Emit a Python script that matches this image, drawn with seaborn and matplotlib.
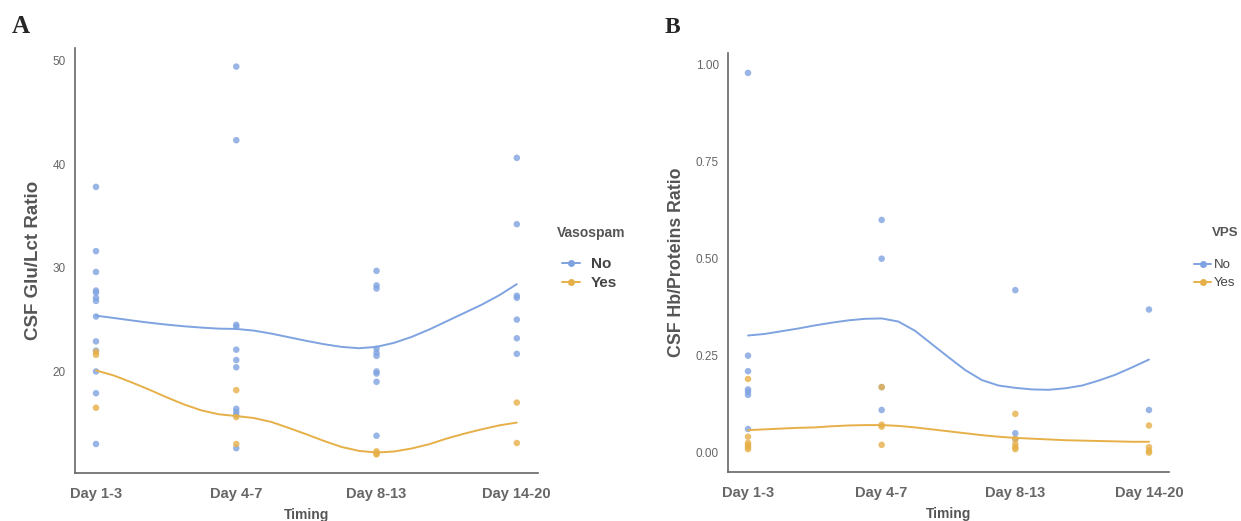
import matplotlib
matplotlib.use("Agg")
import matplotlib.pyplot as plt
from matplotlib.lines import Line2D
import pandas as pd
import seaborn as sns

# categories on the x axis
timing = ["Day 1-3", "Day 4-7", "Day 8-13", "Day 14-20"]
groups = ["No", "Yes"]

# panel A: CSF Glu/Lct ratio, points per timing
a_no = {
    "Day 1-3": [37.8, 31.6, 29.6, 27.8, 27.6, 27.1, 26.8, 25.3, 22.9, 22.0, 20.0, 17.9, 13.0],
    "Day 4-7": [49.4, 42.3, 24.5, 24.3, 22.1, 21.1, 20.4, 16.4, 16.1, 15.8, 12.6],
    "Day 8-13": [29.7, 28.3, 28.0, 22.2, 21.8, 21.5, 20.0, 19.8, 19.0, 13.8],
    "Day 14-20": [40.6, 34.2, 27.3, 27.1, 25.0, 23.2, 21.7],
}
a_yes = {
    "Day 1-3": [21.9, 21.6, 16.5],
    "Day 4-7": [18.2, 15.6, 13.0],
    "Day 8-13": [12.3, 12.1, 12.0],
    "Day 14-20": [17.0, 13.1],
}

# panel B: CSF Hb/Proteins ratio
b_no = {
    "Day 1-3": [0.979, 0.25, 0.21, 0.163, 0.157, 0.149, 0.061],
    "Day 4-7": [0.60, 0.50, 0.169, 0.11],
    "Day 8-13": [0.419, 0.05, 0.035],
    "Day 14-20": [0.369, 0.11],
}
b_yes = {
    "Day 1-3": [0.19, 0.041, 0.025, 0.019, 0.014, 0.009],
    "Day 4-7": [0.169, 0.072, 0.067, 0.02],
    "Day 8-13": [0.10, 0.035, 0.022, 0.014, 0.009],
    "Day 14-20": [0.07, 0.014, 0.005, 0.0],
}

# smoothed curves, every eighth of a step between timings
curve_x = [0, 0.125, 0.25, 0.375, 0.5, 0.625, 0.75, 0.875,
           1.0, 1.125, 1.25, 1.375, 1.5, 1.625, 1.75, 1.875,
           2.0, 2.125, 2.25, 2.375, 2.5, 2.625, 2.75, 2.875, 3.0]
a_curve_no = [25.38, 25.16, 24.93, 24.71, 24.52, 24.36, 24.23, 24.13,
              24.10, 23.94, 23.65, 23.30, 22.95, 22.63, 22.37, 22.24,
              22.37, 22.76, 23.33, 24.04, 24.84, 25.64, 26.44, 27.35, 28.42]
a_curve_yes = [20.10, 19.62, 18.97, 18.27, 17.53, 16.83, 16.25, 15.87,
               15.70, 15.51, 15.13, 14.55, 13.94, 13.30, 12.72, 12.34,
               12.18, 12.28, 12.57, 12.98, 13.53, 14.00, 14.42, 14.80, 15.07]
b_curve_no = [0.302, 0.306, 0.313, 0.320, 0.328, 0.335, 0.341, 0.345,
              0.346, 0.338, 0.314, 0.280, 0.246, 0.213, 0.187, 0.173,
              0.167, 0.163, 0.162, 0.166, 0.173, 0.186, 0.201, 0.220, 0.240]
b_curve_yes = [0.058, 0.060, 0.062, 0.064, 0.065, 0.068, 0.070, 0.071,
               0.071, 0.069, 0.065, 0.060, 0.055, 0.050, 0.045, 0.041,
               0.038, 0.036, 0.034, 0.032, 0.031, 0.030, 0.029, 0.028, 0.028]

palette = {"No": "#7fa3e0", "Yes": "#e6b048"}
grey = "#555555"


def points_frame(no, yes):
    rows = []
    for grp, d in (("No", no), ("Yes", yes)):
        for i, t in enumerate(timing):
            for v in d[t]:
                rows.append({"x": i, "value": v, "group": grp})
    return pd.DataFrame(rows)


def curve_frame(no, yes):
    return pd.DataFrame({
        "x": curve_x + curve_x,
        "value": no + yes,
        "group": ["No"] * len(no) + ["Yes"] * len(yes),
    })


def draw_panel(ax, pts, crv, ylabel, yticks, yfmt, ylim, label_size):
    sns.scatterplot(data=pts, x="x", y="value", hue="group", palette=palette,
                    s=22, alpha=0.8, edgecolor="none", ax=ax, legend=False, zorder=2)
    sns.lineplot(data=crv, x="x", y="value", hue="group", palette=palette,
                 estimator=None, linewidth=1.4, ax=ax, legend=False, zorder=3)
    ax.set_xlim(-0.15, 3.15)
    ax.set_ylim(*ylim)
    ax.set_xticks(range(len(timing)))
    ax.set_xticklabels(timing, fontsize=10.5, fontweight="bold", color=grey)
    ax.set_yticks(yticks)
    ax.set_yticklabels([yfmt.format(v) for v in yticks], fontsize=8.5, color="#666666")
    ax.set_xlabel("Timing", fontsize=10, fontweight="bold", color=grey, labelpad=5)
    ax.set_ylabel(ylabel, fontsize=label_size, fontweight="bold", color=grey, labelpad=8)
    for side in ("top", "right"):
        ax.spines[side].set_visible(False)
    for side in ("left", "bottom"):
        ax.spines[side].set_color("#666666")
        ax.spines[side].set_linewidth(1.2)
    ax.tick_params(axis="both", colors="#666666", length=3, width=1)
    ax.tick_params(axis="x", pad=7)


sns.set_style("white")
plt.rcParams["font.family"] = ["Liberation Sans", "DejaVu Sans"]

fig = plt.figure(figsize=(12.41, 5.21), dpi=100)
ax_a = fig.add_axes([0.0604, 0.092, 0.373, 0.816])
ax_b = fig.add_axes([0.5866, 0.094, 0.3554, 0.804])

draw_panel(ax_a, points_frame(a_no, a_yes), curve_frame(a_curve_no, a_curve_yes),
           "CSF Glu/Lct Ratio", [20, 30, 40, 50], "{:.0f}", (10.2, 51.2), 13.5)
draw_panel(ax_b, points_frame(b_no, b_yes), curve_frame(b_curve_no, b_curve_yes),
           "CSF Hb/Proteins Ratio", [0, 0.25, 0.5, 0.75, 1.0], "{:.2f}", (-0.05, 1.03), 12.8)

handles = [Line2D([0], [0], color=palette[g], marker="o", markersize=4, linewidth=1.4)
           for g in groups]

# legend A
fig.text(557 / 1241, 1 - 233 / 521, "Vasospam", fontsize=10, fontweight="bold",
         color=grey, va="center")
leg_a = fig.legend(handles, groups, loc="upper left",
                   bbox_to_anchor=(562 / 1241, 1 - 257 / 521), frameon=False,
                   handlelength=1.2, handletextpad=0.7, labelspacing=0.35,
                   borderaxespad=0, borderpad=0, prop={"size": 11, "weight": "bold"})
for t in leg_a.get_texts():
    t.set_color("#444444")

# legend B
fig.text(1212 / 1241, 1 - 233 / 521, "VPS", fontsize=9.5, fontweight="bold",
         color=grey, va="center")
leg_b = fig.legend(handles, groups, loc="upper left",
                   bbox_to_anchor=(1194 / 1241, 1 - 259 / 521), frameon=False,
                   handlelength=1.3, handletextpad=0.2, labelspacing=0.45,
                   borderaxespad=0, borderpad=0, prop={"size": 9.5})
for t in leg_b.get_texts():
    t.set_color("#444444")

fig.text(12 / 1241, 1 - 33 / 521, "A", fontsize=18, fontweight="bold",
         family="Liberation Serif", va="baseline")
fig.text(665 / 1241, 1 - 33 / 521, "B", fontsize=17, fontweight="bold",
         family="Liberation Serif", va="baseline")

fig.savefig("out.png", dpi=100, facecolor="white")
